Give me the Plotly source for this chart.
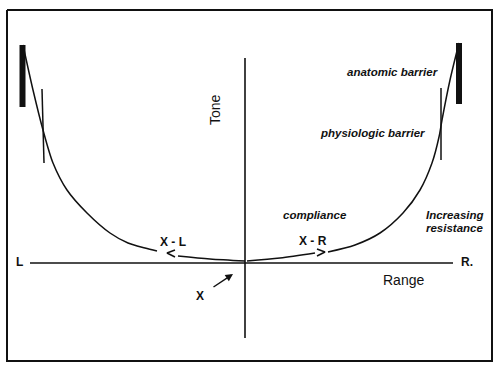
import plotly.graph_objects as go

# Coordinates: Range (horizontal, 0 = resting point X) and Tone (vertical, 0 = baseline)
# Tone/Range curve, left limb (L side)
left_curve_range = [-222, -212, -202, -192, -178, -158, -135, -117, -100, -88]
left_curve_tone = [218, 173, 133, 100, 73, 50, 30, 20, 15, 12]
# inner part left of X (after the "<" arrowhead)
left_inner_range = [-67, -35, 0]
left_inner_tone = [7, 4, 2]
# right limb (R side)
right_inner_range = [2, 35, 70]
right_inner_tone = [2, 5, 10]
right_curve_range = [83, 110, 135, 158, 175, 187, 194, 197, 205, 214]
right_curve_tone = [11, 18, 30, 50, 73, 100, 126, 143, 183, 220]

# arrowheads "<" and ">"
lt_range = [-70, -78, -70]
lt_tone = [13, 10, 6]
gt_range = [72, 80, 72]
gt_tone = [14, 11, 7]

# anatomic barriers (thick bars)
anat_left_range = [-222.5, -222.5]
anat_left_tone = [218, 156]
anat_right_range = [214, 214]
anat_right_tone = [220, 159]
# physiologic barriers (thin lines)
phys_left_range = [-203, -201]
phys_left_tone = [174, 100]
phys_right_range = [196, 196]
phys_right_tone = [175, 103]

# axes
range_axis_x = [-215, 208]
range_axis_y = [0, 0]
tone_axis_x = [0, 0]
tone_axis_y = [205, -75]

# frame
frame_x = [-238, 247, 247, -238, -238]
frame_y = [253, 253, -98, -98, 253]

# labels
labels = [
    ("anatomic barrier", 147, 191),
    ("physiologic barrier", 127, 130),
    ("compliance", 70, 48),
    ("Increasing", 210, 48),
    ("resistance", 210, 35),
]
bold_labels = [
    ("X - L", -72, 21),
    ("X - R", 68, 22),
    ("L", -226, 1),
    ("R.", 222, 1),
    ("X", -45, -33),
]
plain_labels = [("Range", 158, -17)]
tone_label = ("Tone", -30, 153)
x_arrow = {"tail": (-33, -25), "tip": (-12, -11)}

fig = go.Figure()
black = "#111111"

def line(xs, ys, w, shape="linear"):
    fig.add_trace(go.Scatter(x=xs, y=ys, mode="lines",
                             line=dict(color=black, width=w, shape=shape, smoothing=0.8),
                             hoverinfo="skip", showlegend=False))

line(frame_x, frame_y, 2)
line(range_axis_x, range_axis_y, 1.6)
line(tone_axis_x, tone_axis_y, 1.6)
line(left_curve_range, left_curve_tone, 1.5, "spline")
line(left_inner_range, left_inner_tone, 1.5, "spline")
line(right_inner_range, right_inner_tone, 1.5, "spline")
line(right_curve_range, right_curve_tone, 1.5, "spline")
line(lt_range, lt_tone, 1.5)
line(gt_range, gt_tone, 1.5)
line(anat_left_range, anat_left_tone, 6)
line(anat_right_range, anat_right_tone, 6)
line(phys_left_range, phys_left_tone, 1.5)
line(phys_right_range, phys_right_tone, 1.5)

font_main = "Liberation Sans, Arial, sans-serif"
for t, x, y in labels:
    fig.add_annotation(x=x, y=y, text=t, showarrow=False,
                       font=dict(family=font_main, size=11.5, color=black,
                                 style="italic", weight="bold"))
for t, x, y in bold_labels:
    fig.add_annotation(x=x, y=y, text=t, showarrow=False,
                       font=dict(family=font_main, size=12, color=black, weight="bold"))
for t, x, y in plain_labels:
    fig.add_annotation(x=x, y=y, text=t, showarrow=False,
                       font=dict(family=font_main, size=14, color=black))
fig.add_annotation(x=tone_label[1], y=tone_label[2], text=tone_label[0], showarrow=False,
                   textangle=-90, font=dict(family=font_main, size=14, color=black))
fig.add_annotation(x=x_arrow["tip"][0], y=x_arrow["tip"][1], ax=x_arrow["tail"][0],
                   ay=x_arrow["tail"][1], axref="x", ayref="y", xref="x", yref="y",
                   text="", showarrow=True, arrowhead=2, arrowsize=1, arrowwidth=1.5,
                   arrowcolor=black)

fig.update_layout(
    width=500, height=366, margin=dict(l=0, r=0, t=0, b=0),
    paper_bgcolor="white", plot_bgcolor="white",
    xaxis=dict(range=[-245, 255], visible=False, fixedrange=True),
    yaxis=dict(range=[-103, 263], visible=False, fixedrange=True),
)
fig.write_html("out.html")
